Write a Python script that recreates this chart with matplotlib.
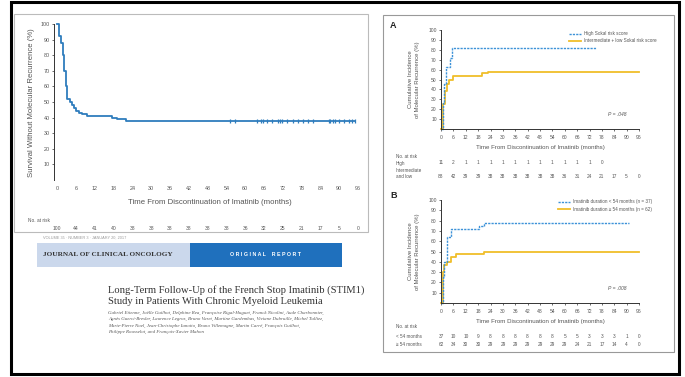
import numpy as np
import matplotlib
matplotlib.use('Agg')
import matplotlib.pyplot as plt
import matplotlib.transforms as mtransforms
from matplotlib.patches import Rectangle
from matplotlib.lines import Line2D

W, H = 685, 377

# x ticks shared by every panel (months)
months = np.arange(0, 97, 6)

# left panel: overall survival without molecular recurrence
km_t = [0, 0.7, 1.3, 1.8, 2.2, 2.8, 3.3, 4, 4.7, 5.3, 6, 7, 8, 9.5, 17.5, 19, 20.5, 22, 95]
km_s = [100, 92, 88, 80, 70, 60, 52, 50, 48, 46, 44, 43, 42, 41, 40, 39, 39, 38, 38]
km_censor = [55.3, 56.9, 63.9, 64.9, 65.8, 67.1, 68.7, 70.6, 71.2, 71.9, 73.5, 75.4,
             77.0, 78.3, 79.9, 81.5, 86.6, 87.2, 87.9, 88.8, 89.8, 91.4, 93.0, 94.2, 95.2]
km_censor_s = [38] * len(km_censor)
km_risk = [100, 44, 41, 40, 38, 38, 38, 38, 38, 38, 36, 32, 25, 21, 17, 5, 0]

# panel A: Sokal risk score
a_high_t = [0, 1.1, 1.6, 2.3, 3.9, 4.4, 5.3, 75]
a_high_c = [0, 26, 45, 63, 63, 72, 82, 82]
a_low_t = [0, 0.8, 1.2, 1.7, 2.7, 3.9, 5.9, 18, 20, 22.7, 96]
a_low_c = [0, 10, 25, 38, 45, 50, 54, 54, 57, 58, 58]
a_risk_high = [11, 2, 1, 1, 1, 1, 1, 1, 1, 1, 1, 1, 1, 0]
a_risk_low = [88, 42, 39, 39, 38, 38, 38, 38, 38, 38, 36, 31, 24, 21, 17, 5, 0]
a_labels = ['High Sokal risk score', 'Intermediate + low Sokal risk score']
a_p = 'P = .048'

# panel B: imatinib duration
b_short_t = [0, 1.0, 1.5, 3.0, 5.0, 17.2, 18.5, 21, 91]
b_short_c = [0, 25, 40, 64, 72, 72, 75, 78, 78]
b_long_t = [0, 0.8, 1.1, 1.4, 3.0, 4.8, 7.2, 21, 96]
b_long_c = [0, 11, 30, 37, 40, 45, 48, 50, 50]
b_risk_short = [37, 10, 10, 9, 8, 8, 8, 8, 8, 8, 5, 5, 3, 3, 3, 1, 0]
b_risk_long = [62, 34, 30, 30, 29, 29, 29, 29, 29, 29, 29, 24, 21, 17, 14, 4, 0]
b_labels = ['Imatinib duration < 54 months (n = 37)', 'Imatinib duration \u2265 54 months (n = 62)']
b_p = 'P = .008'

xlab = 'Time From Discontinuation of Imatinib (months)'
authors = [
    'Gabriel Etienne, Jo\u00eblle Guilhot, Delphine Rea, Fran\u00e7oise Rigal-Huguet, Franck Nicolini, Aude Charbonnier,',
    'Agn\u00e8s Guerci-Bresler, Laurence Legros, Bruno Varet, Martine Gardembas, Viviane Dubruille, Michel Tulliez,',
    'Marie-Pierre Noel, Jean-Christophe Ianotto, Bruno Villemagne, Martin Carr\u00e9, Fran\u00e7ois Guilhot,',
    'Philippe Rousselot, and Fran\u00e7ois-Xavier Mahon',
]

plt.rcParams['font.family'] = ['Liberation Sans', 'DejaVu Sans']
blue = '#2f7dbd'
lblue = '#3d92d8'
yellow = '#f0be2a'
tcol = '#555555'

fig = plt.figure(figsize=(W / 100, H / 100), dpi=100)
px = mtransforms.Affine2D().scale(1 / W, -1 / H).translate(0, 1) + fig.transFigure


def box(x0, y0, x1, y1, **kw):
    kw.setdefault('zorder', -5)
    fig.add_artist(Rectangle((x0, y0), x1 - x0, y1 - y0, transform=px, **kw))


def add_ax(x0, y0, x1, y1):
    return fig.add_axes([x0 / W, 1 - y1 / H, (x1 - x0) / W, (y1 - y0) / H])


def txt(x, y, s, **kw):
    kw.setdefault('color', tcol)
    kw.setdefault('va', 'center')
    fig.text(x, y, s, transform=px, **kw)


def style(ax, fs):
    for s in ['top', 'right']:
        ax.spines[s].set_visible(False)
    for s in ['left', 'bottom']:
        ax.spines[s].set_color('#333333')
        ax.spines[s].set_linewidth(0.7)
    ax.tick_params(labelsize=fs, colors='#333333', labelcolor=tcol, length=1.5, width=0.5, pad=1.5)
    ax.set_xlim(0, 96)
    ax.set_ylim(0, 100)
    ax.set_xticks(months)
    ax.set_yticks(np.arange(10, 101, 10))
    ax.patch.set_alpha(0)


# frames
box(11, 2, 679, 374, fill=False, ec='black', lw=2.2, zorder=5)
box(14, 14, 368, 232, fill=False, ec='#bbbbbb', lw=0.8)
box(383, 15, 674, 352, fc='white', ec='#999999', lw=0.8)

# ---- left KM plot
ax = add_ax(54, 24, 358, 180)
style(ax, 3.9)
ax.set_xlim(-1, 96)
ax.spines['bottom'].set_visible(False)
ax.tick_params(axis='x', length=0, pad=4)
ax.step(km_t, km_s, where='post', color=blue, lw=1.3, clip_on=False)
ax.plot(km_censor, km_censor_s, '|', ms=3.5, mew=0.9, color=blue, clip_on=False)
txt(210, 202, xlab, fontsize=5.6, ha='center')
txt(32, 103, 'Survival Without Molecular Recurrence (%)', fontsize=5.6, ha='center', rotation=90)
txt(28, 220, 'No. at risk', fontsize=3.4)
tr = mtransforms.blended_transform_factory(ax.transData, px)
for m, n in zip(months, km_risk):
    ax.text(m, 229, str(n), transform=tr, fontsize=3.6, ha='center', va='center', color=tcol)

# ---- journal header
txt(43, 238, 'VOLUME 35 \u00b7 NUMBER 3 \u00b7 JANUARY 20, 2017', fontsize=2.8, color='#999999')
box(37, 243, 190, 267, fc='#cbd8ec', ec='none')
box(190, 243, 342, 267, fc='#1f70bd', ec='none')
txt(43, 255, 'JOURNAL OF CLINICAL ONCOLOGY', fontsize=5.2, color='#333333', family='Liberation Serif',
    fontweight='bold')
txt(266, 255, 'O R I G I N A L    R E P O R T', fontsize=3.8, color='white', ha='center', fontweight='bold')
txt(108, 290, 'Long-Term Follow-Up of the French Stop Imatinib (STIM1)', fontsize=7.6,
    color='#333333', family='Liberation Serif')
txt(108, 301, 'Study in Patients With Chronic Myeloid Leukemia', fontsize=7.6,
    color='#333333', family='Liberation Serif')
for i, line in enumerate(authors):
    txt(108, 313 + 6.4 * i, line, fontsize=3.5, color='#555555', family='Liberation Serif', style='italic')


# ---- right panels
def panel(y0, y1, c1t, c1, c2t, c2, labels, ptxt, letter, rows, risk1, risk2, leg_x, leg_y):
    ax = add_ax(441, y0, 639, y1)
    style(ax, 3.6)
    ax.tick_params(axis='x', pad=2.5)
    ax.step(c2t, c2, where='post', color=yellow, lw=1.3, clip_on=False)
    ax.step(c1t, c1, where='post', color=lblue, lw=1.0, ls=(0, (1.6, 0.8)), clip_on=False)
    txt(390, y0 - 5, letter, fontsize=6.5, color='#222222', fontweight='bold')
    txt(540, y1 + 18, xlab, fontsize=4.4, ha='center')
    txt(414, (y0 + y1) / 2, 'Cumulative Incidence\nof Molecular Recurrence (%)', fontsize=4.3,
        ha='center', rotation=90, linespacing=1.35)
    txt(608, y1 - 15, ptxt, fontsize=3.6, style='italic')
    for k, (col, ls, lw) in enumerate([(lblue, (0, (1.6, 0.8)), 1.0), (yellow, '-', 1.3)]):
        yy = leg_y + 7 * k
        fig.add_artist(Line2D([leg_x, leg_x + 12], [yy, yy], transform=px, color=col, ls=ls, lw=lw))
        txt(leg_x + 15, yy, labels[k], fontsize=3.3)
    tr = mtransforms.blended_transform_factory(ax.transData, px)
    txt(396, rows[0], 'No. at risk', fontsize=3.3)
    for lab, yy in zip(rows[2], rows[3]):
        txt(396, yy, lab, fontsize=3.3, linespacing=1.1)
    for risk, yy in zip([risk1, risk2], rows[1]):
        for m, n in zip(months, risk):
            ax.text(m, yy, str(n), transform=tr, fontsize=3.4, ha='center', va='center', color=tcol)


panel(30, 129, a_high_t, a_high_c, a_low_t, a_low_c, a_labels, a_p, 'A',
      (156, (163, 177), ['High', 'Intermediate\nand low'], (163, 173.5)),
      a_risk_high, a_risk_low, 569, 34)
panel(200, 303, b_short_t, b_short_c, b_long_t, b_long_c, b_labels, b_p, 'B',
      (327, (336, 344), ['< 54 months', '\u2265 54 months'], (336, 344)),
      b_risk_short, b_risk_long, 558, 202)

fig.savefig('out.png', dpi=100)
